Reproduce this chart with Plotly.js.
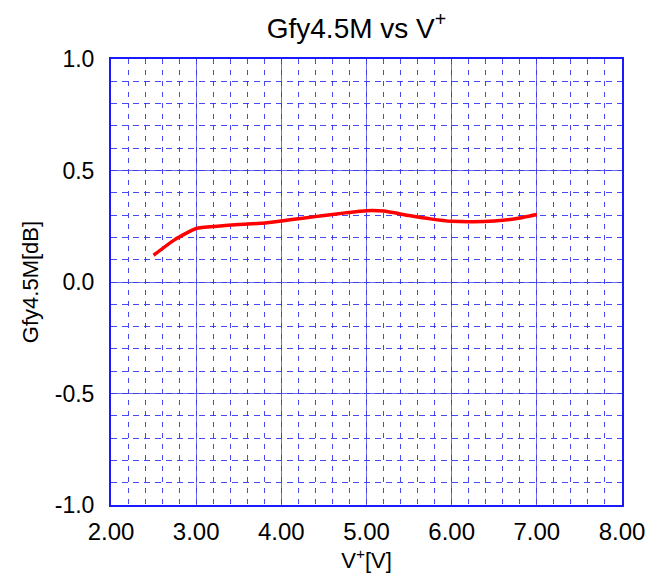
<!DOCTYPE html>
<html>
<head>
<meta charset="utf-8">
<script src="https://cdn.plot.ly/plotly-3.0.1.min.js"></script>
<style>html,body{margin:0;padding:0;background:#fff;}#chart{width:647px;height:580px;}</style>
</head>
<body>
<div id="chart"></div>
<script>
var voltage = [2.5, 2.75, 3.0, 3.25, 3.5, 3.75, 4.0, 4.25, 4.5, 4.75, 5.0, 5.2, 5.5, 5.75, 6.0, 6.25, 6.5, 6.75, 7.0];
var gfy = [0.12, 0.19, 0.24, 0.25, 0.258, 0.263, 0.274, 0.286, 0.298, 0.31, 0.32, 0.318, 0.298, 0.283, 0.272, 0.27, 0.274, 0.284, 0.303];
var xTickVals = [2, 3, 4, 5, 6, 7, 8];
var xTickText = ['2.00', '3.00', '4.00', '5.00', '6.00', '7.00', '8.00'];
var yTickVals = [-1, -0.5, 0, 0.5, 1];
var yTickText = ['-1.0', '-0.5', '0.0', '0.5', '1.0'];
var chartTitle = 'Gfy4.5M vs V<sup>+</sup>';
var xTitle = 'V<sup>+</sup>[V]';
var yTitle = 'Gfy4.5M[dB]';

var trace = {
  x: voltage, y: gfy, type: 'scatter', mode: 'lines',
  line: {color: '#ff0000', width: 3.5, shape: 'spline', smoothing: 0.5},
  hoverinfo: 'skip'
};
var fam = 'Liberation Sans, Arial, sans-serif';
var layout = {
  width: 647, height: 580,
  margin: {l: 110.7, r: 25.3, t: 59, b: 74.7},
  paper_bgcolor: '#fff', plot_bgcolor: '#fff',
  showlegend: false,
  font: {family: fam, color: '#000'},
  title: {text: chartTitle, font: {family: fam, size: 28, color: '#000'}, x: 0.551, xanchor: 'center', y: 0.952, yanchor: 'middle'},
  xaxis: {
    range: [2, 8], tickmode: 'array', tickvals: xTickVals, ticktext: xTickText,
    showgrid: true, gridcolor: 'rgba(60,60,230,0.75)', gridwidth: 1,
    minor: {dtick: 0.2, tick0: 2, showgrid: true, gridcolor: 'rgba(40,40,240,0.85)', griddash: '5px,6px', gridwidth: 1},
    zeroline: false, showline: true, mirror: true, linecolor: '#1a1aff', linewidth: 2,
    ticks: '', ticklabelstandoff: 4, tickfont: {family: fam, size: 24, color: '#000'},
    title: {text: xTitle, font: {family: fam, size: 22, color: '#000'}, standoff: 2},
    fixedrange: true
  },
  yaxis: {
    range: [-1, 1], tickmode: 'array', tickvals: yTickVals, ticktext: yTickText,
    showgrid: true, gridcolor: 'rgba(60,60,230,0.75)', gridwidth: 1,
    minor: {dtick: 0.1, tick0: 0, showgrid: true, gridcolor: 'rgba(40,40,240,0.85)', griddash: '6px,5px', gridwidth: 1},
    zeroline: false, showline: true, mirror: true, linecolor: '#1a1aff', linewidth: 2,
    ticks: '', ticklabelstandoff: 10, tickfont: {family: fam, size: 23, color: '#000'},
    title: {text: yTitle, font: {family: fam, size: 22, color: '#000'}, standoff: 10},
    fixedrange: true
  }
};
Plotly.newPlot('chart', [trace], layout, {staticPlot: true, displayModeBar: false});
</script>
</body>
</html>
